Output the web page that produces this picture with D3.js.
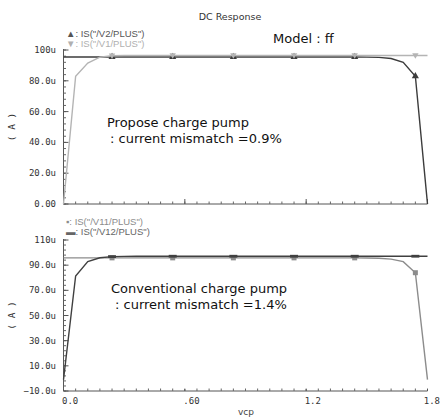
<!DOCTYPE html>
<html>
<head>
<meta charset="utf-8">
<script src="https://cdn.jsdelivr.net/npm/d3@7"></script>
<style>
  body { margin: 0; background: #fff; }
  svg { display: block; }
</style>
</head>
<body>
<svg id="chart" width="441" height="420"></svg>
<script>
// vcp sweep (V)
const vcp = [0, 0.06, 0.12, 0.18, 0.24, 0.30, 0.36, 0.42, 0.48, 0.54,
             0.60, 0.66, 0.72, 0.78, 0.84, 0.90, 0.96, 1.02, 1.08, 1.14,
             1.20, 1.26, 1.32, 1.38, 1.44, 1.50, 1.56, 1.62, 1.68, 1.74, 1.80];

// currents in uA
const isV2 = [95.5, 95.5, 95.5, 95.5, 95.5, 95.5, 95.5, 95.5, 95.5, 95.5,
              95.5, 95.5, 95.5, 95.5, 95.5, 95.5, 95.5, 95.5, 95.5, 95.5,
              95.5, 95.5, 95.5, 95.5, 95.5, 95.4, 95.2, 94.5, 92.0, 83.0, 0];
const isV1 = [0, 83.0, 91.5, 95.3, 96.3, 96.4, 96.4, 96.4, 96.4, 96.4,
              96.4, 96.4, 96.4, 96.4, 96.4, 96.4, 96.4, 96.4, 96.4, 96.4,
              96.4, 96.4, 96.4, 96.4, 96.4, 96.4, 96.4, 96.4, 96.4, 96.4, 96.4];
const isV11 = [95.8, 95.8, 95.8, 95.8, 95.8, 95.8, 95.8, 95.8, 95.8, 95.8,
               95.8, 95.8, 95.8, 95.8, 95.8, 95.8, 95.8, 95.8, 95.8, 95.8,
               95.8, 95.8, 95.8, 95.8, 95.8, 95.7, 95.5, 94.8, 92.8, 84.0, -1.0];
const isV12 = [-1.0, 81.4, 92.8, 95.9, 96.8, 97.0, 97.1, 97.1, 97.1, 97.1,
               97.1, 97.1, 97.1, 97.1, 97.1, 97.1, 97.1, 97.1, 97.1, 97.1,
               97.1, 97.1, 97.1, 97.1, 97.1, 97.1, 97.1, 97.1, 97.1, 97.1, 97.1];

const markerVcp = [0.24, 0.54, 0.84, 1.14, 1.44, 1.74];

const xTicks = [0, 0.6, 1.2, 1.8];
const xTickLabels = ["0.0", ".60", "1.2", "1.8"];
const topTicks = [0, 20, 40, 60, 80, 100];
const topTickLabels = ["0.00", "20.0u", "40.0u", "60.0u", "80.0u", "100u"];
const botTicks = [-10, 10, 30, 50, 70, 90, 110];
const botTickLabels = ["\u221210.0u", "10.0u", "30.0u", "50.0u", "70.0u", "90.0u", "110u"];

const svg = d3.select("#chart");
const monoFont = "'DejaVu Sans Mono', monospace";
const noteFont = "13px 'DejaVu Sans', sans-serif";

const x = d3.scaleLinear().domain([0, 1.8]).range([63.5, 427.5]);

svg.append("text")
    .attr("x", 230).attr("y", 20)
    .attr("text-anchor", "middle")
    .style("font", "9.5px 'DejaVu Sans', sans-serif")
    .attr("fill", "#333")
    .text("DC Response");

function drawPanel(p) {
    const y = d3.scaleLinear().domain(p.domain).range(p.range);
    const g = svg.append("g");
    const y0 = p.range[0], y1 = p.range[1];

    // axis lines
    g.append("line").attr("x1", x(0)).attr("x2", x(0)).attr("y1", y0).attr("y2", y1 - 1)
        .attr("stroke", "#555");
    g.append("line").attr("x1", x(0)).attr("x2", x(1.8)).attr("y1", y0).attr("y2", y0)
        .attr("stroke", "#555");

    // y ticks (inward)
    g.selectAll(".ymin").data(d3.range(p.domain[0], p.domain[1] + 0.01, 4))
        .join("line")
        .attr("x1", x(0)).attr("x2", x(0) + 2.5)
        .attr("y1", d => y(d)).attr("y2", d => y(d))
        .attr("stroke", "#666");
    g.selectAll(".ymaj").data(p.ticks).join("line")
        .attr("x1", x(0)).attr("x2", x(0) + 5)
        .attr("y1", d => y(d)).attr("y2", d => y(d))
        .attr("stroke", "#555");
    g.selectAll(".ylab").data(p.ticks).join("text")
        .attr("x", 56).attr("y", d => y(d) + 3)
        .attr("text-anchor", "end")
        .style("font", "9px " + monoFont)
        .attr("fill", "#333")
        .text((d, i) => p.tickLabels[i]);

    // x ticks (inward)
    g.selectAll(".xmin").data(vcp).join("line")
        .attr("x1", d => x(d)).attr("x2", d => x(d))
        .attr("y1", y0).attr("y2", y0 - 2.5)
        .attr("stroke", "#666");
    g.selectAll(".xmaj").data(xTicks).join("line")
        .attr("x1", d => x(d)).attr("x2", d => x(d))
        .attr("y1", y0).attr("y2", y0 + (p.xLabels ? 3 : 0) - 5)
        .attr("stroke", "#555");
    if (p.xLabels) {
        g.selectAll(".xlab").data(xTicks).join("text")
            .attr("x", (d, i) => i === xTicks.length - 1 ? 440 : x(d) - 1.5)
            .attr("text-anchor", (d, i) => i === xTicks.length - 1 ? "end" : "start")
            .attr("y", y0 + 13)
            .style("font", "9px " + monoFont)
            .attr("fill", "#333")
            .text((d, i) => xTickLabels[i]);
        g.append("text")
            .attr("x", 246).attr("y", y0 + 24)
            .attr("text-anchor", "middle")
            .style("font", "9px 'DejaVu Sans', sans-serif")
            .attr("fill", "#444")
            .text("vcp");
    }

    // y title
    g.append("text")
        .attr("transform", `translate(15, ${(y0 + y1) / 2}) rotate(-90)`)
        .attr("text-anchor", "middle")
        .style("font", "9.5px " + monoFont)
        .attr("fill", "#333")
        .text("( A )");

    const line = d3.line().x(d => x(d[0])).y(d => y(d[1]));

    p.series.forEach(s => {
        const pts = vcp.map((v, i) => [v, s.values[i]]);
        g.append("path")
            .attr("d", line(pts))
            .attr("fill", "none")
            .attr("stroke", s.color)
            .attr("stroke-width", 1.4);
        const mk = pts.filter(d => markerVcp.some(m => Math.abs(m - d[0]) < 1e-6));
        g.selectAll(null).data(mk).join("path")
            .attr("transform", d => `translate(${x(d[0])},${y(d[1])})`)
            .attr("d", s.marker)
            .attr("fill", s.color);
    });

    // legend
    p.series.forEach((s, i) => {
        g.append("text")
            .attr("x", 66).attr("y", p.legendY + i * 9.5)
            .style("font", "9.5px 'Liberation Sans', sans-serif")
            .attr("fill", s.legendColor)
            .text(s.legendSym + ": " + s.name);
    });

    // annotation, two lines
    p.note.forEach((t, i) => {
        g.append("text")
            .attr("x", p.noteX[i])
            .attr("y", p.noteY + i * 16)
            .style("font", noteFont)
            .attr("fill", "#111")
            .text(t);
    });
}

const triUp = d3.symbol(d3.symbolTriangle, 22)();
const triDown = "M-3.2,-2.2L3.2,-2.2L0,3.2Z";
const square = "M-2.5,-2.5h5v5h-5Z";
const bar = "M-4,-1.4h8v2.8h-8Z";

drawPanel({
    domain: [0, 100], range: [204, 50],
    ticks: topTicks, tickLabels: topTickLabels,
    xLabels: false,
    legendY: 37,
    series: [
        { name: 'IS("/V2/PLUS")', values: isV2, color: "#3c3c3c", marker: triUp,
          legendSym: "\u25B2", legendColor: "#555" },
        { name: 'IS("/V1/PLUS")', values: isV1, color: "#b4b4b4", marker: triDown,
          legendSym: "\u25BC", legendColor: "#b0b0b0" }
    ],
    note: ["Propose charge pump", ": current mismatch =0.9%"],
    noteX: [107, 110], noteY: 127
});

drawPanel({
    domain: [-10, 110], range: [391, 240],
    ticks: botTicks, tickLabels: botTickLabels,
    xLabels: true,
    legendY: 225,
    series: [
        { name: 'IS("/V11/PLUS")', values: isV11, color: "#8c8c8c", marker: square,
          legendSym: "\u25AA", legendColor: "#8c8c8c" },
        { name: 'IS("/V12/PLUS")', values: isV12, color: "#404040", marker: bar,
          legendSym: "\u25AC", legendColor: "#666" }
    ],
    note: ["Conventional charge pump", ": current mismatch =1.4%"],
    noteX: [111, 115], noteY: 293
});

svg.append("text")
    .attr("x", 273).attr("y", 43)
    .style("font", noteFont)
    .attr("fill", "#111")
    .text("Model : ff");
</script>
</body>
</html>
